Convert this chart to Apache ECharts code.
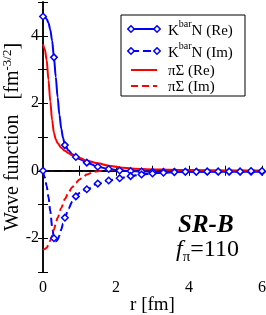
<!DOCTYPE html>
<html><head><meta charset="utf-8">
<script src="https://cdn.jsdelivr.net/npm/echarts@6/dist/echarts.min.js"></script>
<style>html,body{margin:0;padding:0;background:#fff}#c{width:266px;height:315px}</style>
</head><body><div id="c"></div>
<script>
// ---- data ----
const kbarReX = [0,0.05,0.1,0.15,0.2,0.25,0.3,0.35,0.4,0.45,0.5,0.55,0.6,0.7,0.8,0.9,1.0,1.2,1.5,1.8,2.1,2.4,2.7,3.0,3.3,3.6,3.9,4.2,4.5,4.8,5.1,5.4,5.7,6.0];
const kbarReY = [4.57,4.56,4.50,4.38,4.18,3.85,3.36,2.78,2.18,1.66,1.25,0.97,0.76,0.60,0.49,0.41,0.35,0.24,0.12,0.05,0.01,-0.01,-0.02,-0.03,-0.03,-0.03,-0.03,-0.03,-0.03,-0.03,-0.03,-0.03,-0.03,-0.03];
const kbarImX = kbarReX;
const kbarImY = [0,-0.2,-0.45,-0.78,-1.2,-1.65,-2.0,-2.09,-2.05,-1.92,-1.74,-1.56,-1.39,-1.12,-0.92,-0.76,-0.66,-0.55,-0.38,-0.29,-0.22,-0.16,-0.11,-0.08,-0.06,-0.04,-0.03,-0.03,-0.02,-0.02,-0.02,-0.02,-0.01,-0.01];
const piSigReX = [0,0.05,0.1,0.15,0.2,0.25,0.3,0.35,0.4,0.5,0.6,0.7,0.8,0.9,1.0,1.2,1.5,1.8,2.1,2.5,3.0,3.5,4.0,5.0,6.0];
const piSigReY = [3.75,3.6,3.28,2.69,2.05,1.5,1.12,0.93,0.82,0.68,0.59,0.52,0.46,0.42,0.38,0.30,0.22,0.15,0.10,0.06,0.04,0.03,0.02,0.01,0.01];
const piSigImX = [0,0.05,0.1,0.15,0.2,0.25,0.3,0.35,0.4,0.5,0.6,0.7,0.8,0.9,1.0,1.1,1.2,1.4,1.6,1.8,2.0,2.5,3.0,4.0,5.0,6.0];
const piSigImY = [-2.35,-2.32,-2.28,-2.2,-2.07,-1.92,-1.74,-1.56,-1.39,-1.1,-0.84,-0.64,-0.49,-0.36,-0.26,-0.18,-0.11,-0.03,0.0,0.02,0.03,0.03,0.02,0.01,0.0,0.0];
const markerStep = 0.3;
const xTicks = [0,2,4,6];
const yTicks = [-2,0,2,4];
const legendNames = ['K{s|bar}N (Re)','K{s|bar}N (Im)','πΣ (Re)','πΣ (Im)'];

const pairs = (xs, ys) => xs.map((x, i) => [x, ys[i]]);
const isMark = v => { const q = v[0] / markerStep; return Math.abs(q - Math.round(q)) < 1e-6; };
const SERIF = '"Liberation Serif","DejaVu Serif",serif';
const BLUE = '#0000ff', RED = '#ff0000';

const chart = echarts.init(document.getElementById('c'), null, {renderer: 'canvas'});
const frameAxis = {lineStyle: {color: '#000', width: 1.5}};
const tickIn = {inside: true, length: 5, lineStyle: {color: '#000', width: 1}};

function diamond(cx, cy) {
  return {type: 'polygon', shape: {points: [[cx, cy-3.2],[cx+3.2, cy],[cx, cy+3.2],[cx-3.2, cy]]},
    style: {fill: '#fff', stroke: BLUE, lineWidth: 1.5}, z: 102};
}
const lx0 = 131, lx1 = 157, rows = [29, 51, 70, 86];
const legendGraphics = [
  {type: 'rect', shape: {x: 121, y: 15, width: 124, height: 81}, style: {fill: '#fff', stroke: '#000', lineWidth: 1}, z: 100},
  {type: 'line', shape: {x1: lx0, y1: rows[0], x2: lx1, y2: rows[0]}, style: {stroke: BLUE, lineWidth: 2}, z: 101},
  diamond(lx0, rows[0]), diamond(lx1, rows[0]),
  {type: 'line', shape: {x1: lx0, y1: rows[1], x2: lx1, y2: rows[1]}, style: {stroke: BLUE, lineWidth: 2, lineDash: [8, 4]}, z: 101},
  diamond(lx0, rows[1]), diamond(lx1, rows[1]),
  {type: 'line', shape: {x1: lx0, y1: rows[2], x2: lx1, y2: rows[2]}, style: {stroke: RED, lineWidth: 2}, z: 101},
  {type: 'line', shape: {x1: lx0, y1: rows[3], x2: lx1, y2: rows[3]}, style: {stroke: RED, lineWidth: 2, lineDash: [7, 4]}, z: 101}
];
legendNames.forEach((t, i) => {
  legendGraphics.push({type: 'text', x: 168, y: rows[i] + (i < 2 ? 2 : 1), z: 103,
    style: {text: t.indexOf('{') >= 0 ? '{a|' + t.replace('{s|bar}', '}{s|bar}{a|') + '}' : t,
      font: '15px ' + SERIF, fill: '#000', verticalAlign: 'middle', align: 'left',
      rich: {a: {fontSize: 15, fontFamily: SERIF, lineHeight: 24, verticalAlign: 'middle'},
             s: {fontSize: 10, fontFamily: SERIF, lineHeight: 24, verticalAlign: 'top'}}}});
});
legendGraphics.push({type: 'text', x: 178, y: 226, z: 103,
  style: {text: 'SR-B', font: 'italic bold 25px ' + SERIF, fill: '#000', verticalAlign: 'middle', align: 'left'}});
legendGraphics.push({type: 'text', x: 176, y: 250, z: 103,
  style: {text: '{f|f}{p|π}{n|=110}', fill: '#000', verticalAlign: 'middle', align: 'left',
    rich: {f: {fontSize: 24, fontStyle: 'italic', fontFamily: SERIF, lineHeight: 30, verticalAlign: 'middle'},
           p: {fontSize: 15, fontFamily: SERIF, lineHeight: 30, verticalAlign: 'bottom'},
           n: {fontSize: 24, fontFamily: SERIF, lineHeight: 30, verticalAlign: 'middle'}}}});

const lineSeries = (name, xs, ys, color, dashed, marks) => ({
  name, type: 'line', data: pairs(xs, ys), smooth: 0.3, smoothMonotone: 'x',
  showAllSymbol: true,
  symbol: marks ? (v => isMark(v) ? 'diamond' : 'none') : 'none',
  symbolSize: 6.5,
  itemStyle: {color: '#fff', borderColor: color, borderWidth: 1.5},
  lineStyle: {color, width: 2, type: dashed ? dashed : 'solid'},
  animation: false, silent: true, clip: true
});

chart.setOption({
  animation: false,
  grid: {left: 43, right: 4, top: 2, bottom: 43, containLabel: false, outerBoundsMode: 'none'},
  xAxis: [
    {type: 'value', min: 0, max: 6, interval: 2, position: 'bottom',
     name: 'r [fm]', nameLocation: 'middle', nameGap: 24, nameMoveOverlap: false,
     nameTextStyle: {fontFamily: SERIF, fontSize: 19, color: '#000', verticalAlign: 'top'},
     axisLine: frameAxis, axisTick: tickIn,
     minorTick: {show: true, splitNumber: 2, length: 5, lineStyle: {color: '#000', width: 1}},
     axisLabel: {fontFamily: SERIF, fontSize: 16, color: '#000', margin: 8,
       formatter: v => xTicks.indexOf(v) >= 0 ? String(v) : ''},
     splitLine: {show: false}},
    {type: 'value', min: 0, max: 6, interval: 2, position: 'top',
     axisLine: frameAxis, axisTick: tickIn,
     minorTick: {show: true, splitNumber: 2, length: 5, lineStyle: {color: '#000', width: 1}},
     axisLabel: {show: false}, splitLine: {show: false}}
  ],
  yAxis: [
    {type: 'value', min: -3, max: 5, interval: 1, position: 'left',
     name: '{a|Wave function   [fm}{s|-3/2}{a|]}', nameLocation: 'middle', nameGap: 18, nameRotate: 90,
     nameMoveOverlap: false,
     nameTextStyle: {fontFamily: SERIF, fontSize: 20, color: '#000',
       rich: {a: {fontFamily: SERIF, fontSize: 20, lineHeight: 24, verticalAlign: 'middle'},
              s: {fontFamily: SERIF, fontSize: 13, lineHeight: 24, verticalAlign: 'top'}}},
     axisLine: frameAxis, axisTick: tickIn,
     axisLabel: {fontFamily: SERIF, fontSize: 16, color: '#000', margin: 4,
       formatter: v => yTicks.indexOf(v) >= 0 ? String(v) : ''},
     splitLine: {show: false}},
    {type: 'value', min: -3, max: 5, interval: 1, position: 'right',
     axisLine: frameAxis, axisTick: tickIn, axisLabel: {show: false}, splitLine: {show: false}}
  ],
  series: [
    lineSeries('kRe', kbarReX, kbarReY, BLUE, null, true),
    lineSeries('kIm', kbarImX, kbarImY, BLUE, [8, 4], true),
    lineSeries('pRe', piSigReX, piSigReY, RED, null, false),
    lineSeries('pIm', piSigImX, piSigImY, RED, [7, 4], false),
    {type: 'line', data: [[0, 0], [6, 0]], symbol: 'none', silent: true,
     lineStyle: {color: '#000', width: 1.5, type: [7, 4]}, z: 1}
  ],
  graphic: legendGraphics
});
</script></body></html>
